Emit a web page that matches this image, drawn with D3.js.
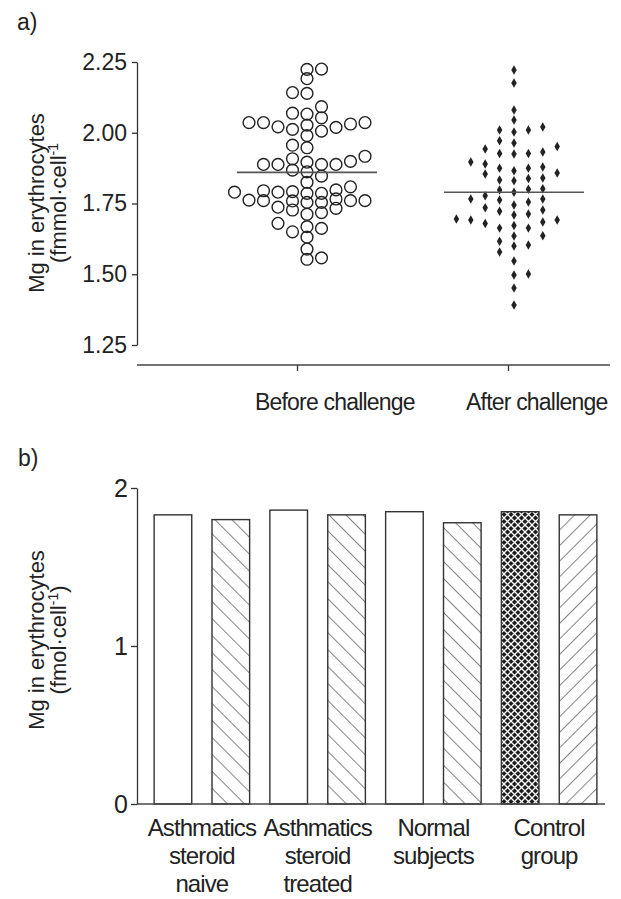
<!DOCTYPE html>
<html>
<head>
<meta charset="utf-8">
<script src="https://cdn.jsdelivr.net/npm/d3@7"></script>
<style>
  body { margin: 0; background: #fff; }
  svg text { font-family: "Liberation Sans", Arial, sans-serif; fill: #222; }
</style>
</head>
<body>
<svg id="chart" width="621" height="899"></svg>
<script>
// ---- panel a data: Mg in erythrocytes before / after challenge ----
const challengeGroups = ['Before challenge', 'After challenge'];
const beforeValues = [
  2.224, 2.225, 2.191, 2.142, 2.139, 2.092, 2.066, 2.069,
  2.036, 2.036, 2.027, 2.021, 2.006, 2.012, 2.019, 1.990, 2.031, 2.036, 2.053,
  1.947, 1.956,
  1.888, 1.888, 1.908, 1.899, 1.917, 1.888, 1.888, 1.896, 1.862, 1.868, 1.847,
  1.809, 1.790, 1.786, 1.786, 1.790, 1.795, 1.792, 1.798, 1.825,
  1.759, 1.754, 1.733, 1.762, 1.760, 1.760, 1.766, 1.737, 1.754, 1.760,
  1.727, 1.712, 1.718,
  1.668, 1.650, 1.662, 1.680, 1.631, 1.589, 1.553, 1.558
];
const afterValues = [
  2.222, 2.176, 2.080, 2.045, 2.010, 2.003, 2.010, 2.020,
  1.972, 1.943, 1.932, 1.927, 1.925, 1.927, 1.951, 1.964,
  1.897, 1.879, 1.875, 1.854, 1.866, 1.875, 1.890,
  1.838, 1.833, 1.830, 1.840, 1.858,
  1.790, 1.802, 1.798, 1.800,
  1.766, 1.762, 1.745, 1.755, 1.766, 1.777, 1.735,
  1.727, 1.709, 1.692, 1.695, 1.685, 1.692, 1.713, 1.723,
  1.663, 1.663, 1.672, 1.679, 1.636, 1.635, 1.617, 1.600, 1.603,
  1.579, 1.547, 1.497, 1.501, 1.451, 1.391
];
const challengeMeans = [1.86, 1.79];
const yTicksA = [1.25, 1.50, 1.75, 2.00, 2.25];

// ---- panel b data ----
const studyGroups = ['Asthmatics steroid naive', 'Asthmatics steroid treated', 'Normal subjects', 'Control group'];
const groupLabelLines = [['Asthmatics', 'steroid', 'naive'], ['Asthmatics', 'steroid', 'treated'], ['Normal', 'subjects'], ['Control', 'group']];
const firstBar = [1.83, 1.86, 1.85, 1.85];
const secondBar = [1.80, 1.83, 1.78, 1.83];
const yTicksB = [0, 1, 2];

const svg = d3.select('#chart');

// patterns
const defs = svg.append('defs');
function hatch(id, size, angle) {
  const p = defs.append('pattern')
      .attr('id', id)
      .attr('patternUnits', 'userSpaceOnUse')
      .attr('width', size).attr('height', size)
      .attr('patternTransform', 'rotate(' + angle + ')');
  p.append('rect').attr('width', size).attr('height', size).attr('fill', '#fff');
  p.append('line').attr('x1', 0).attr('y1', 0).attr('x2', 0).attr('y2', size)
      .attr('stroke', '#333').attr('stroke-width', 1.2);
}
hatch('back', 12, -45);
hatch('fwd', 11, 45);
const weave = defs.append('pattern')
    .attr('id', 'weave')
    .attr('patternUnits', 'userSpaceOnUse')
    .attr('width', 7).attr('height', 7);
weave.append('rect').attr('width', 7).attr('height', 7).attr('fill', '#1c1c1c');
weave.append('path').attr('d', 'M0,0L7,7M7,0L0,7')
    .attr('stroke', '#fff').attr('stroke-width', 1.3).attr('fill', 'none');

// ================= panel a =================
const ya = d3.scaleLinear().domain([1.25, 2.25]).range([345, 62]);
const xa = d3.scalePoint().domain(challengeGroups).range([297, 508]);

svg.append('text').attr('x', 17).attr('y', 30).style('font-size', '23px').text('a)');

const gya = svg.append('g').attr('transform', 'translate(137,0)')
    .call(d3.axisLeft(ya).tickValues(yTicksA).tickFormat(d3.format('.2f')).tickSize(5).tickSizeOuter(0));
gya.selectAll('text').style('font-size', '23px').attr('x', -10).attr('fill', '#222');

const gxa = svg.append('g').attr('transform', 'translate(0,365)')
    .call(d3.axisBottom(xa).tickSize(6).tickSizeOuter(0));
gxa.select('.domain').remove();
gxa.selectAll('text').remove();
gxa.append('line').attr('x1', 137).attr('x2', 610).attr('stroke', '#444').attr('stroke-width', 1.5);
svg.selectAll('.domain, .tick line').attr('stroke', '#333').attr('stroke-width', 1.3);

svg.append('g').selectAll('text').data(challengeGroups).join('text')
    .attr('x', d => xa(d) - 42).attr('y', 410)
    .style('font-size', '23px').style('letter-spacing', '-0.8px')
    .text(d => d);

const titleA = svg.append('text')
    .attr('transform', 'translate(44,203) rotate(-90)')
    .attr('text-anchor', 'middle').style('font-size', '22px');
titleA.append('tspan').attr('x', 0).attr('dy', 0).text('Mg in erythrocytes');
titleA.append('tspan').attr('x', 0).attr('dy', 22).text('(fmmol·cell');
titleA.append('tspan').attr('dy', -8).style('font-size', '14px').text('-1');

// swarm layout: columns beside the group centre
function swarm(values, cx, step, dmin) {
  const cols = new Map();
  let side = 1;
  return values.slice().sort((a, b) => a - b).map(v => {
    const y = ya(v);
    for (let k = 0; k < 30; k++) {
      const cands = k === 0 ? [0] : [k * side, -k * side];
      for (const s of cands) {
        const ys = cols.get(s) || [];
        if (ys.every(q => Math.abs(q - y) >= dmin)) {
          ys.push(y); cols.set(s, ys);
          if (k > 0) side = -side;
          return {v: v, x: cx + s * step, y: y};
        }
      }
    }
  });
}

const beforePts = swarm(beforeValues, xa(challengeGroups[0]) + 10, 14.5, 9);
const afterPts = swarm(afterValues, xa(challengeGroups[1]) + 6, 14.4, 9.5);

svg.append('g').selectAll('circle').data(beforePts).join('circle')
    .attr('cx', d => d.x).attr('cy', d => d.y).attr('r', 5.9)
    .attr('fill', 'none').attr('stroke', '#222').attr('stroke-width', 1.4);

svg.append('g').selectAll('path').data(afterPts).join('path')
    .attr('transform', d => 'translate(' + d.x + ',' + d.y + ')')
    .attr('d', d3.symbol(d3.symbolDiamond, 26))
    .attr('fill', '#222');

const meanCentres = [xa(challengeGroups[0]) + 10, xa(challengeGroups[1]) + 6];
svg.append('g').selectAll('line').data(challengeMeans).join('line')
    .attr('x1', (d, i) => meanCentres[i] - 70).attr('x2', (d, i) => meanCentres[i] + 70)
    .attr('y1', d => ya(d)).attr('y2', d => ya(d))
    .attr('stroke', '#555').attr('stroke-width', 1.6);

// ================= panel b =================
const yb = d3.scaleLinear().domain([0, 2]).range([804, 488]);
const xb = d3.scaleBand().domain(studyGroups).range([144, 607]).paddingInner(0).paddingOuter(0);
const xInner = d3.scaleBand().domain([0, 1]).range([0, xb.bandwidth()]).paddingInner(0.35).paddingOuter(0.175);

svg.append('text').attr('x', 18).attr('y', 466).style('font-size', '23px').text('b)');

const fills = [['#fff', 'url(#back)'], ['#fff', 'url(#back)'], ['#fff', 'url(#back)'], ['url(#weave)', 'url(#fwd)']];
const barData = [];
studyGroups.forEach((g, i) => {
  barData.push({g: g, i: i, k: 0, v: firstBar[i]});
  barData.push({g: g, i: i, k: 1, v: secondBar[i]});
});

svg.append('g').selectAll('rect').data(barData).join('rect')
    .attr('x', d => xb(d.g) + xInner(d.k))
    .attr('y', d => yb(d.v))
    .attr('width', xInner.bandwidth())
    .attr('height', d => yb(0) - yb(d.v))
    .attr('fill', d => fills[d.i][d.k])
    .attr('stroke', '#333').attr('stroke-width', 1.4);

const gyb = svg.append('g').attr('transform', 'translate(137,0)')
    .call(d3.axisLeft(yb).tickValues(yTicksB).tickFormat(d3.format('d')).tickSize(6).tickSizeOuter(0));
gyb.selectAll('text').style('font-size', '25px').attr('x', -9).attr('fill', '#222');
gyb.selectAll('.domain, .tick line').attr('stroke', '#333').attr('stroke-width', 1.3);

svg.append('line').attr('x1', 137).attr('x2', 605).attr('y1', 804).attr('y2', 804)
    .attr('stroke', '#444').attr('stroke-width', 1.5);

const labs = svg.append('g').selectAll('text').data(studyGroups).join('text')
    .attr('text-anchor', 'middle')
    .style('font-size', '24px').style('letter-spacing', '-0.9px');
labs.each(function (d, i) {
  const t = d3.select(this);
  groupLabelLines[i].forEach((line, j) => {
    t.append('tspan').attr('x', xb(d) + xb.bandwidth() / 2).attr('y', 836 + j * 28).text(line);
  });
});

const titleB = svg.append('text')
    .attr('transform', 'translate(44,640) rotate(-90)')
    .attr('text-anchor', 'middle').style('font-size', '22px');
titleB.append('tspan').attr('x', 0).attr('dy', 0).text('Mg in erythrocytes');
titleB.append('tspan').attr('x', 0).attr('dy', 22).text('(fmol·cell');
titleB.append('tspan').attr('dy', -8).style('font-size', '14px').text('-1');
titleB.append('tspan').attr('dy', 8).text(')');
</script>
</body>
</html>
